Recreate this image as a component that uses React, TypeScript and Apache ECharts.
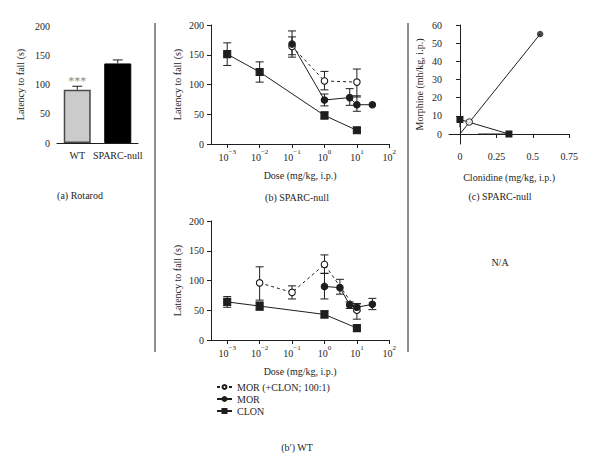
import React, { useEffect, useRef } from 'react';
import * as echarts from 'echarts';

// (a) Rotarod
const rotarodCategories = ['WT', 'SPARC-null'];
const rotarodMeans = [91, 136];
const rotarodSem = [6, 6];
const rotarodMarks = ['***', ''];

// (b) SPARC-null dose-response
const nullMorClonDose = [0.1, 1, 10];
const nullMorClonMean = [164, 106, 104];
const nullMorClonLow = [150, 91, 79];
const nullMorClonHigh = [180, 122, 126];

const nullMorDose = [0.1, 1, 6, 10, 30];
const nullMorMean = [168, 74, 78, 66, 66];
const nullMorLow = [146, 64, 65, 55, 66];
const nullMorHigh = [190, 84, 93, 81, 66];

const nullClonDose = [0.001, 0.01, 1, 10];
const nullClonMean = [151, 121, 48, 23];
const nullClonLow = [132, 104, 42, 23];
const nullClonHigh = [170, 138, 54, 23];

// (b') WT dose-response
const wtMorClonDose = [0.01, 0.1, 1, 10];
const wtMorClonMean = [96, 80, 127, 50];
const wtMorClonLow = [67, 69, 112, 35];
const wtMorClonHigh = [123, 91, 143, 61];

const wtMorDose = [1, 3, 6, 10, 30];
const wtMorMean = [90, 88, 59, 55, 60];
const wtMorLow = [69, 77, 53, 49, 51];
const wtMorHigh = [112, 102, 64, 61, 70];

const wtClonDose = [0.001, 0.01, 1, 10];
const wtClonMean = [64, 57, 43, 20];
const wtClonLow = [55, 50, 37, 20];
const wtClonHigh = [73, 64, 49, 20];

// (c) isobologram (clonidine x, morphine y)
const isoMorphineOnly = [0, 8];
const isoClonidineOnly = [0.336, 0];
const isoTheoretical = [0.064, 6.6];
const isoExperimental = [0.55, 55];
const isoRatioLine = [[0, 0], [0.55, 55]];
const isoMorphineErr = [[0, 8], [0, 3.7]];
const isoClonidineErr = [[0.124, 0], [0.336, 0]];
const isoYTicks = [0, 10, 20, 30, 40, 50, 60];
const isoXTicks = [0, 0.25, 0.5, 0.75];

const LEG_MORCLON = 'MOR (+CLON; 100:1)';
const LEG_MOR = 'MOR';
const LEG_CLON = 'CLON';

const FONT = '"Liberation Serif", "DejaVu Serif", serif';
const INK = '#1e1e1e';

const axisCommon = {
  axisLine: { lineStyle: { color: INK, width: 1 } },
  axisTick: { length: 4, lineStyle: { color: INK, width: 1 } },
  splitLine: { show: false },
};

const labelBase = { color: INK, fontSize: 10, fontFamily: FONT };

function logLabel(v: number) {
  const l = Math.log10(v);
  const e = Math.round(l);
  if (Math.abs(l - e) > 1e-6) return '';
  const s = e < 0 ? '\u2212' + -e : String(e);
  return '{b|10}{s|' + s + '}';
}

function logAxis(gridIndex: number) {
  return {
    type: 'log',
    logBase: 10,
    gridIndex,
    min: Math.pow(10, -3.5),
    max: 100,
    ...axisCommon,
    name: 'Dose (mg/kg, i.p.)',
    nameLocation: 'middle',
    nameGap: 26,
    nameTextStyle: { ...labelBase },
    axisLabel: {
      margin: 4,
      showMinLabel: false,
      formatter: logLabel,
      rich: {
        b: { fontSize: 10, fontFamily: FONT, color: INK, verticalAlign: 'bottom', lineHeight: 14 },
        s: { fontSize: 7, fontFamily: FONT, color: INK, verticalAlign: 'top', lineHeight: 14 },
      },
    },
  };
}

function latencyAxis(gridIndex: number, nameGap: number) {
  return {
    type: 'value',
    gridIndex,
    min: 0,
    max: 200,
    interval: 50,
    ...axisCommon,
    name: 'Latency to fall (s)',
    nameLocation: 'middle',
    nameGap,
    nameTextStyle: { ...labelBase },
    axisLabel: { ...labelBase, margin: 7 },
  };
}

function errorSeries(name: string, idx: number, dose: number[], low: number[], high: number[], caps = 4) {
  return {
    type: 'custom',
    name,
    xAxisIndex: idx,
    yAxisIndex: idx,
    z: 1,
    silent: true,
    encode: { x: 0, y: [1, 2] },
    data: dose.map((d, i) => [d, low[i], high[i]]),
    renderItem: (params: any, api: any) => {
      const x = api.value(0);
      const lo = api.value(1);
      const hi = api.value(2);
      if (lo === hi) return { type: 'group', children: [] };
      const a = api.coord([x, hi]);
      const b = api.coord([x, lo]);
      const st = { stroke: INK, lineWidth: 1 };
      return {
        type: 'group',
        children: [
          { type: 'line', shape: { x1: a[0], y1: a[1], x2: b[0], y2: b[1] }, style: st },
          { type: 'line', shape: { x1: a[0] - caps, y1: a[1], x2: a[0] + caps, y2: a[1] }, style: st },
          { type: 'line', shape: { x1: b[0] - caps, y1: b[1], x2: b[0] + caps, y2: b[1] }, style: st },
        ],
      };
    },
  };
}

function doseSeries(name: string, idx: number, dose: number[], mean: number[], kind: 'open' | 'filled' | 'square') {
  return {
    type: 'line',
    name,
    xAxisIndex: idx,
    yAxisIndex: idx,
    z: 3,
    data: dose.map((d, i) => [d, mean[i]]),
    symbol: kind === 'square' ? 'rect' : 'circle',
    symbolSize: kind === 'square' ? 7 : 6.5,
    showSymbol: true,
    lineStyle: { color: INK, width: 1, type: kind === 'open' ? [3, 3] : 'solid' },
    itemStyle: { color: kind === 'open' ? '#fff' : INK, borderColor: INK, borderWidth: 1.1 },
  };
}

function App() {
  const ref = useRef<HTMLDivElement>(null);
  useEffect(() => {
    if (!ref.current) return;
    const chart = echarts.init(ref.current, null, { renderer: 'svg' });
    const option: any = {
      animation: false,
      backgroundColor: '#fff',
      textStyle: { fontFamily: FONT },
      grid: [
        { left: 57, top: 26, width: 81, height: 117 },
        { left: 211, top: 25, width: 178.3, height: 119 },
        { left: 211, top: 221, width: 178.3, height: 119 },
        { left: 449, top: 25, width: 120.3, height: 119 },
      ],
      xAxis: [
        {
          type: 'category',
          gridIndex: 0,
          data: rotarodCategories,
          ...axisCommon,
          axisTick: { ...axisCommon.axisTick, alignWithLabel: true },
          axisLabel: { ...labelBase, margin: 7, interval: 0 },
        },
        logAxis(1),
        logAxis(2),
        {
          type: 'value',
          gridIndex: 3,
          min: -0.075,
          max: 0.75,
          ...axisCommon,
          name: 'Clonidine (mg/kg, i.p.)',
          nameLocation: 'middle',
          nameGap: 28,
          nameTextStyle: { ...labelBase },
          axisTick: { ...axisCommon.axisTick, customValues: isoXTicks },
          axisLabel: { ...labelBase, margin: 7, customValues: isoXTicks },
        },
      ],
      yAxis: [
        latencyAxis(0, 32),
        latencyAxis(1, 29),
        latencyAxis(2, 29),
        {
          type: 'value',
          gridIndex: 3,
          min: -5.5,
          max: 60,
          ...axisCommon,
          name: 'Morphine (mh/kg, i.p.)',
          nameLocation: 'middle',
          nameGap: 25,
          nameTextStyle: { ...labelBase },
          axisTick: { ...axisCommon.axisTick, customValues: isoYTicks },
          axisLabel: { ...labelBase, margin: 7, customValues: isoYTicks },
        },
      ],
      legend: {
        data: [LEG_MORCLON, LEG_MOR, LEG_CLON],
        orient: 'vertical',
        left: 211,
        top: 377,
        itemWidth: 15,
        itemHeight: 5,
        itemGap: 2,
        selectedMode: false,
        textStyle: { ...labelBase, padding: [0, 0, 0, 0] },
      },
      series: [
        {
          type: 'bar',
          xAxisIndex: 0,
          yAxisIndex: 0,
          barWidth: 27,
          z: 2,
          data: rotarodMeans.map((v, i) => ({
            value: v,
            itemStyle:
              i === 0
                ? { color: '#cbcbcb', borderColor: '#4a4a4a', borderWidth: 1.5 }
                : { color: '#000', borderColor: '#000', borderWidth: 1 },
          })),
          label: {
            show: true,
            position: 'top',
            distance: 3,
            color: '#8a8a8a',
            fontSize: 12,
            fontFamily: FONT,
            formatter: (p: any) => rotarodMarks[p.dataIndex],
          },
        },
        {
          type: 'custom',
          name: 'rotarod-err',
          xAxisIndex: 0,
          yAxisIndex: 0,
          z: 1,
          silent: true,
          data: rotarodMeans.map((v, i) => [i, v, v + rotarodSem[i]]),
          encode: { x: 0, y: [1, 2] },
          renderItem: (params: any, api: any) => {
            const a = api.coord([api.value(0), api.value(2)]);
            const b = api.coord([api.value(0), api.value(1)]);
            const st = { stroke: INK, lineWidth: 1 };
            return {
              type: 'group',
              children: [
                { type: 'line', shape: { x1: a[0], y1: a[1], x2: b[0], y2: b[1] }, style: st },
                { type: 'line', shape: { x1: a[0] - 5, y1: a[1], x2: a[0] + 5, y2: a[1] }, style: st },
              ],
            };
          },
        },
        // (b)
        errorSeries('e1', 1, nullMorClonDose, nullMorClonLow, nullMorClonHigh),
        errorSeries('e2', 1, nullMorDose, nullMorLow, nullMorHigh),
        errorSeries('e3', 1, nullClonDose, nullClonLow, nullClonHigh),
        doseSeries(LEG_MORCLON, 1, nullMorClonDose, nullMorClonMean, 'open'),
        doseSeries(LEG_MOR, 1, nullMorDose, nullMorMean, 'filled'),
        doseSeries(LEG_CLON, 1, nullClonDose, nullClonMean, 'square'),
        // (b')
        errorSeries('e4', 2, wtMorClonDose, wtMorClonLow, wtMorClonHigh),
        errorSeries('e5', 2, wtMorDose, wtMorLow, wtMorHigh),
        errorSeries('e6', 2, wtClonDose, wtClonLow, wtClonHigh),
        doseSeries(LEG_MORCLON, 2, wtMorClonDose, wtMorClonMean, 'open'),
        doseSeries(LEG_MOR, 2, wtMorDose, wtMorMean, 'filled'),
        doseSeries(LEG_CLON, 2, wtClonDose, wtClonMean, 'square'),
        // (c)
        {
          type: 'line',
          name: 'iso-ratio',
          xAxisIndex: 3,
          yAxisIndex: 3,
          data: isoRatioLine,
          symbol: 'none',
          lineStyle: { color: INK, width: 1 },
          z: 2,
        },
        {
          type: 'line',
          name: 'iso-morphine-err',
          xAxisIndex: 3,
          yAxisIndex: 3,
          data: isoMorphineErr,
          symbol: 'none',
          lineStyle: { color: INK, width: 1 },
          z: 2,
        },
        {
          type: 'line',
          name: 'iso-clonidine-err',
          xAxisIndex: 3,
          yAxisIndex: 3,
          data: isoClonidineErr,
          symbol: 'none',
          lineStyle: { color: INK, width: 1 },
          z: 2,
        },
        {
          type: 'line',
          name: 'iso-additive',
          xAxisIndex: 3,
          yAxisIndex: 3,
          data: [isoMorphineOnly, isoClonidineOnly],
          symbol: 'rect',
          symbolSize: 7,
          lineStyle: { color: INK, width: 1 },
          itemStyle: { color: INK },
          z: 3,
        },
        {
          type: 'scatter',
          name: 'iso-theoretical',
          xAxisIndex: 3,
          yAxisIndex: 3,
          data: [isoTheoretical],
          symbol: 'circle',
          symbolSize: 6.5,
          itemStyle: { color: '#fff', borderColor: INK, borderWidth: 1.1 },
          z: 4,
        },
        {
          type: 'scatter',
          name: 'iso-experimental',
          xAxisIndex: 3,
          yAxisIndex: 3,
          data: [isoExperimental],
          symbol: 'circle',
          symbolSize: 6.5,
          itemStyle: { color: INK },
          z: 4,
        },
      ],
      graphic: [
        { type: 'line', shape: { x1: 155, y1: 23, x2: 155, y2: 352 }, style: { stroke: INK, lineWidth: 1 } },
        { type: 'line', shape: { x1: 408, y1: 23, x2: 408, y2: 352 }, style: { stroke: INK, lineWidth: 1 } },
        ...[
          ['(a) Rotarod', 80, 195],
          ['(b) SPARC-null', 297, 197],
          ['(c) SPARC-null', 500, 196],
          ['N/A', 500, 262],
          ['(b\u2032) WT', 297, 447],
        ].map(([t, x, y]) => ({
          type: 'text',
          x,
          y,
          style: {
            text: t,
            align: 'center',
            verticalAlign: 'middle',
            fontSize: 10,
            fontFamily: FONT,
            fill: INK,
          },
        })),
      ],
    };
    chart.setOption(option);
    return () => chart.dispose();
  }, []);
  return (
    <div
      ref={ref}
      style={{ position: 'fixed', left: 0, top: 0, width: 600, height: 473, background: '#fff' }}
    />
  );
}

export default App;
